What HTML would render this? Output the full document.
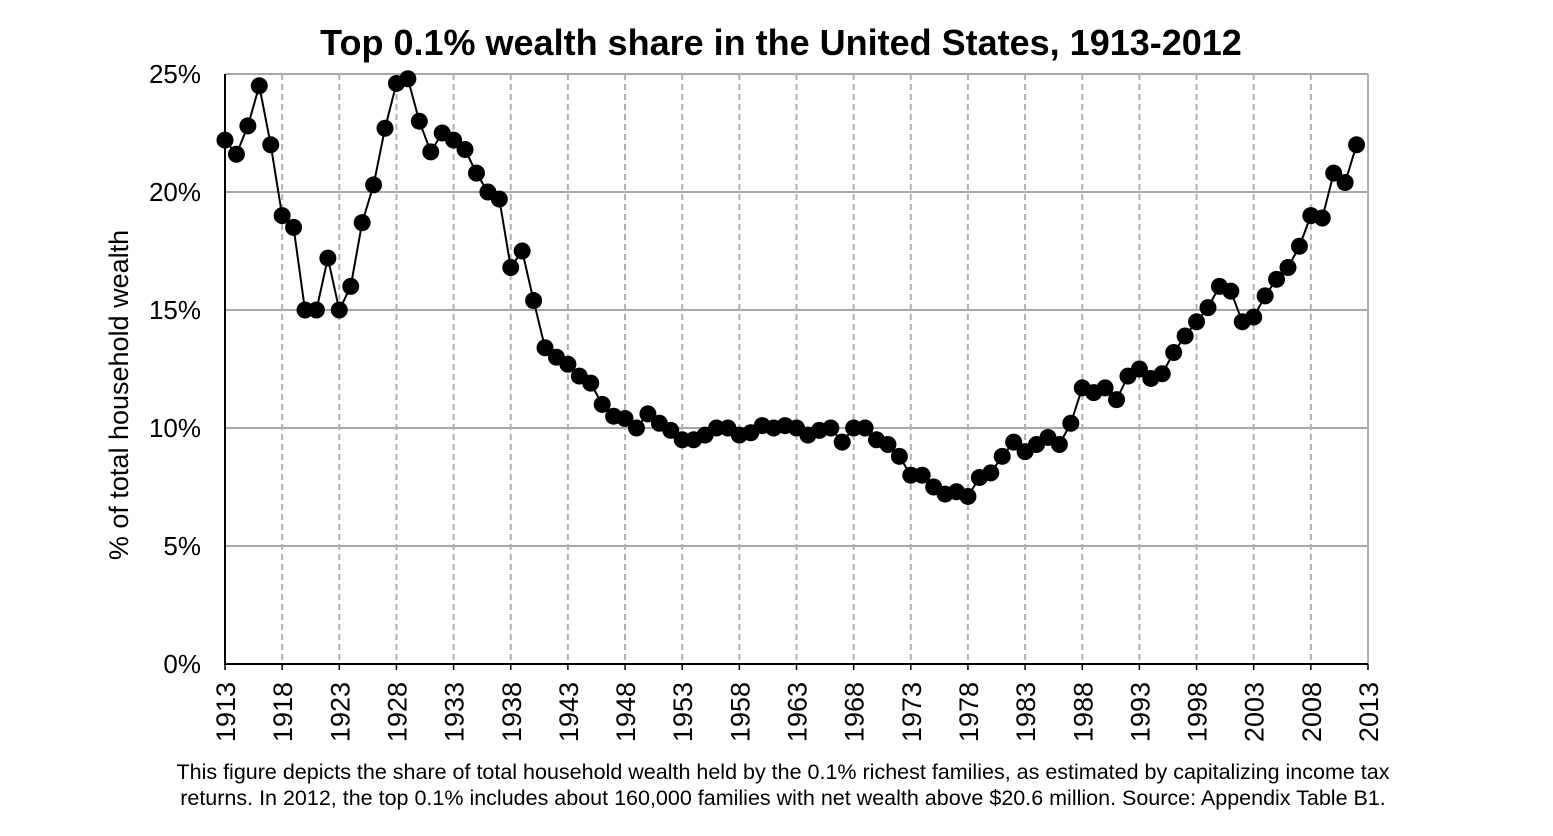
<!DOCTYPE html>
<html><head><meta charset="utf-8"><style>
body{margin:0;background:#fff;font-family:"Liberation Sans",Arial,sans-serif;}
</style></head><body>
<svg id="chart" width="1553" height="831" xmlns="http://www.w3.org/2000/svg">
<text x="781" y="55" text-anchor="middle" font-size="36" font-weight="bold" font-family="Liberation Sans, sans-serif">Top 0.1% wealth share in the United States, 1913-2012</text>
<g id="grid"></g>
<g id="axes"></g>
<g id="series"></g>
<text transform="translate(128,395) rotate(-90)" text-anchor="middle" font-size="27" font-family="Liberation Sans, sans-serif">% of total household wealth</text>
<text x="783" y="779" text-anchor="middle" font-size="21.5" font-family="Liberation Sans, sans-serif">This figure depicts the share of total household wealth held by the 0.1% richest families, as estimated by capitalizing income tax</text>
<text x="783" y="805" text-anchor="middle" font-size="21.5" font-family="Liberation Sans, sans-serif">returns. In 2012, the top 0.1% includes about 160,000 families with net wealth above $20.6 million. Source: Appendix Table B1.</text>
</svg>
<script>
const startYear = 1913;
const values = [22.2,21.6,22.8,24.5,22.0,19.0,18.5,15.0,15.0,17.2,15.0,16.0,18.7,20.3,22.7,24.6,24.8,23.0,21.7,22.5,
22.2,21.8,20.8,20.0,19.7,16.8,17.5,15.4,13.4,13.0,12.7,12.2,11.9,11.0,10.5,10.4,10.0,10.6,10.2,9.9,
9.5,9.5,9.7,10.0,10.0,9.7,9.8,10.1,10.0,10.1,10.0,9.7,9.9,10.0,9.4,10.0,10.0,9.5,9.3,8.8,
8.0,8.0,7.5,7.2,7.3,7.1,7.9,8.1,8.8,9.4,9.0,9.3,9.6,9.3,10.2,11.7,11.5,11.7,11.2,12.2,
12.5,12.1,12.3,13.2,13.9,14.5,15.1,16.0,15.8,14.5,14.7,15.6,16.3,16.8,17.7,19.0,18.9,20.8,20.4,22.0];
const xTicks = [1913,1918,1923,1928,1933,1938,1943,1948,1953,1958,1963,1968,1973,1978,1983,1988,1993,1998,2003,2008,2013];
const yTicks = [0,5,10,15,20,25];
const yTickLabels = ["0%","5%","10%","15%","20%","25%"];

const L=225,R=1368,T=74,B=664;
const xs=y=>L+(y-1913)*(R-L)/100;
const ys=v=>B-v*(B-T)/25;
const NS="http://www.w3.org/2000/svg";
function mk(tag,parent,attrs){const e=document.createElementNS(NS,tag);for(const k in attrs)e.setAttribute(k,attrs[k]);document.getElementById(parent).appendChild(e);return e;}

yTicks.forEach((t,i)=>{
  if(t>0){const g=mk('line','grid',{x1:L,x2:R,y1:ys(t),y2:ys(t),stroke:'#a6a6a6','stroke-width':2});
  
  }
  const tx=mk('text','axes',{x:L-24,y:ys(t)+9,'text-anchor':'end','font-size':26,'font-family':'Liberation Sans, sans-serif'});
  tx.textContent=yTickLabels[i];
  
  
});
xTicks.forEach(t=>{
  if(t>1913){const g=mk('line','grid',{x1:xs(t),x2:xs(t),y1:T,y2:B,stroke:'#b0b0b0','stroke-width':2,'stroke-dasharray':t===2013?'none':'6,4'});
  
  }
  const tk=mk('line','axes',{x1:xs(t),x2:xs(t),y1:B,y2:B+6,stroke:'#000','stroke-width':1.5});
  
  
  const tx=mk('text','axes',{transform:`translate(${xs(t)+10},${B+18}) rotate(-90)`,'text-anchor':'end','font-size':27,'font-family':'Liberation Sans, sans-serif'});
  tx.textContent=t;
  
  
});
const ax=mk('path','axes',{d:`M${L},${T} L${L},${B} L${R},${B}`,fill:'none',stroke:'#000','stroke-width':2});



const pts=values.map((v,i)=>[xs(startYear+i),ys(v)]);
const line=mk('polyline','series',{points:pts.map(p=>p.join(',')).join(' '),fill:'none',stroke:'#000','stroke-width':2});


pts.forEach((p,i)=>{
  const c=mk('circle','series',{cx:p[0],cy:p[1],r:8.5,fill:'#000'});
  
  
});
</script>
</body></html>
